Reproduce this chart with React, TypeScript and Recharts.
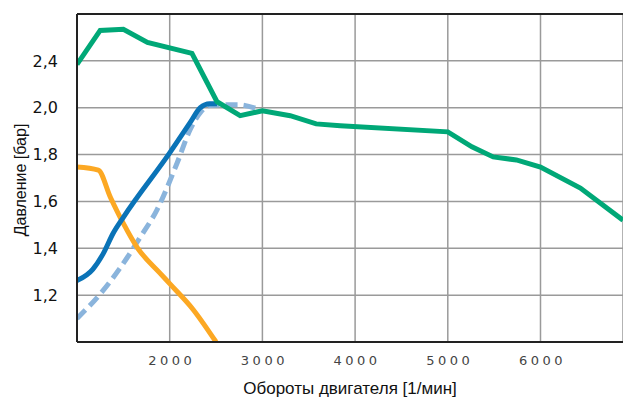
import { LineChart, Line, XAxis, YAxis, CartesianGrid, ReferenceLine } from "recharts"

// engine speed [1/min] / pressure [bar]
const greenRpm = [1000, 1250, 1500, 1760, 2240, 2510, 2760, 3000, 3300, 3580, 3840, 5000, 5260, 5490, 5740, 6000, 6430, 6890]
const greenBar = [2.185, 2.33, 2.335, 2.279, 2.232, 2.026, 1.966, 1.987, 1.966, 1.931, 1.923, 1.897, 1.833, 1.79, 1.777, 1.747, 1.657, 1.52]

const blueRpm = [1000, 1170, 1280, 1390, 1500, 2000, 2220, 2330, 2430, 2510]
const blueBar = [1.262, 1.31, 1.375, 1.464, 1.532, 1.807, 1.936, 2.0, 2.017, 2.017]

const dashRpm = [1000, 1280, 1460, 1680, 1860, 2080, 2220, 2330, 2430, 2730, 2980]
const dashBar = [1.1, 1.219, 1.313, 1.446, 1.562, 1.764, 1.906, 1.979, 2.009, 2.013, 1.991]

const orangeRpm = [1000, 1230, 1360, 1500, 1650, 1900, 2000, 2250, 2500]
const orangeBar = [1.747, 1.734, 1.618, 1.506, 1.403, 1.292, 1.249, 1.14, 1.0]

const xTicks = [2000, 3000, 4000, 5000, 6000]
const yTicks = [1.2, 1.4, 1.6, 1.8, 2.0, 2.2]
const yTickLabels = ["1,2", "1,4", "1,6", "1,8", "2,0", "2,4"]

const toRows = (xs: number[], ys: number[]) => xs.map((rpm, i) => ({ rpm, bar: ys[i] }))

const green = toRows(greenRpm, greenBar)
const blue = toRows(blueRpm, blueBar)
const dashed = toRows(dashRpm, dashBar)
const orange = toRows(orangeRpm, orangeBar)

const tickFont = "'DejaVu Sans', sans-serif"
const titleFont = "'Liberation Sans', Arial, sans-serif"

export default function App() {
  return (
    <div style={{ position: "absolute", left: 0, top: 0 }}>
      <LineChart width={623} height={403} margin={{ top: 14, right: 0, left: 0, bottom: 0 }}>
        <CartesianGrid stroke="#9a9a9a" strokeWidth={1.5} />
        <XAxis
          type="number"
          dataKey="rpm"
          domain={[1000, 6890]}
          ticks={xTicks}
          height={61}
          allowDataOverflow
          stroke="#222"
          strokeWidth={2}
          tickLine={false}
          tickSize={0}
          tickMargin={14}
          tick={{ fill: "#444", fontSize: 13, fontFamily: tickFont, letterSpacing: 3.5, dx: 2 }}
          label={{
            value: "Обороты двигателя [1/мин]",
            position: "insideBottom",
            offset: 9,
            fill: "#111",
            fontSize: 17,
            fontFamily: titleFont,
          }}
        />
        <YAxis
          type="number"
          dataKey="bar"
          domain={[1.0, 2.4]}
          ticks={yTicks}
          width={77}
          allowDataOverflow
          stroke="#222"
          strokeWidth={2}
          tickLine={false}
          tickSize={0}
          tickMargin={19}
          tickFormatter={(v: number) => yTickLabels[yTicks.findIndex((t) => Math.abs(t - v) < 1e-6)] ?? ""}
          tick={{ fill: "#111", fontSize: 16, fontFamily: tickFont }}
          label={{
            content: ({ viewBox }: any) => {
              const cx = viewBox.x + 20
              const cy = viewBox.y + viewBox.height / 2 + 2
              return (
                <text
                  x={cx}
                  y={cy}
                  transform={`rotate(-90 ${cx} ${cy})`}
                  textAnchor="middle"
                  dominantBaseline="central"
                  fill="#111"
                  fontSize={16}
                  fontFamily={titleFont}
                >
                  Давление [бар]
                </text>
              )
            },
          }}
        />
        <ReferenceLine y={2.4} stroke="#222" strokeWidth={2} />
        <Line data={dashed} dataKey="bar" type="monotone" stroke="#8ab4dc" strokeWidth={5} strokeDasharray="12 6" dot={false} isAnimationActive={false} />
        <Line data={orange} dataKey="bar" type="monotone" stroke="#fca823" strokeWidth={5} dot={false} isAnimationActive={false} />
        <Line data={blue} dataKey="bar" type="monotone" stroke="#0a73b7" strokeWidth={5} dot={false} isAnimationActive={false} />
        <Line data={green} dataKey="bar" type="linear" stroke="#00a877" strokeWidth={5} dot={false} isAnimationActive={false} />
      </LineChart>
    </div>
  )
}
